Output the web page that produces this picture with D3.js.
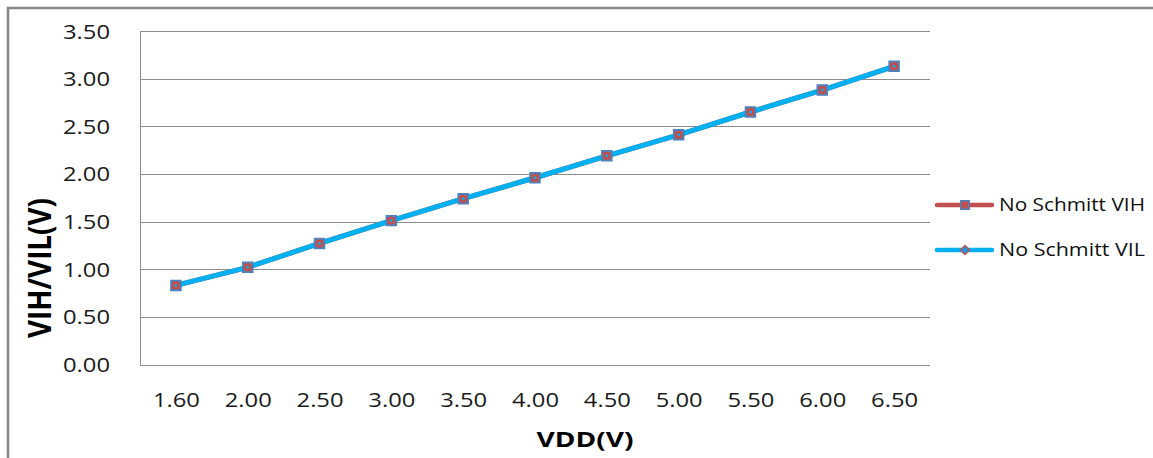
<!DOCTYPE html>
<html><head><meta charset="utf-8">
<script src="https://cdn.jsdelivr.net/npm/d3@7"></script>
<style>
html,body{margin:0;padding:0;background:#fff;}
svg{display:block;font-family:"Open Sans",sans-serif;}
</style></head>
<body>
<svg id="chart" width="1153" height="458"></svg>
<script>
const categories = ["1.60","2.00","2.50","3.00","3.50","4.00","4.50","5.00","5.50","6.00","6.50"];
const vihValues = [0.83,1.02,1.27,1.51,1.74,1.96,2.19,2.41,2.65,2.88,3.13];
const vilValues = [0.83,1.02,1.27,1.51,1.74,1.96,2.19,2.41,2.65,2.88,3.13];
const yTicks = [0,0.5,1,1.5,2,2.5,3,3.5];
const seriesNames = ["No Schmitt VIH","No Schmitt VIL"];

const svg = d3.select("#chart");
// outer chart border
svg.append("path").attr("d","M8,458 L8,8 L1153,8").attr("fill","none")
  .attr("stroke","#878787").attr("stroke-width",2.5);

const x = d3.scalePoint().domain(categories).range([140,930]).padding(0.5);
const y = d3.scaleLinear().domain([0,3.5]).range([364.5,31]);

// gridlines
svg.append("g").selectAll("line").data(yTicks).join("line")
  .attr("x1",140).attr("x2",930)
  .attr("y1",d=>Math.round(y(d))+0.5).attr("y2",d=>Math.round(y(d))+0.5)
  .attr("stroke","#8c8c8c").attr("stroke-width",1);
// left axis line
svg.append("line").attr("x1",140.5).attr("x2",140.5).attr("y1",Math.round(y(3.5))).attr("y2",Math.round(y(0))+1)
  .attr("stroke","#8c8c8c");

// y axis labels
const yAxis = d3.axisLeft(y).tickValues(yTicks).tickFormat(d3.format(".2f")).tickSize(0).tickPadding(0);
const gy = svg.append("g").attr("transform","translate(110,0)").call(yAxis);
gy.select(".domain").remove();
gy.selectAll("text").attr("font-size",20).attr("fill","#1a1a1a").attr("font-family","Open Sans, sans-serif")
  .attr("dy","0.35em").attr("textLength",47).attr("lengthAdjust","spacingAndGlyphs");

// x axis labels
const xAxis = d3.axisBottom(x).tickSize(0).tickPadding(0);
const gx = svg.append("g").attr("transform","translate(0,400)").call(xAxis);
gx.select(".domain").remove();
gx.selectAll("text").attr("font-size",20).attr("fill","#1a1a1a").attr("font-family","Open Sans, sans-serif")
  .attr("dy","0.35em").attr("textLength",47).attr("lengthAdjust","spacingAndGlyphs");

// axis titles
svg.append("text").attr("x",585).attr("y",447).attr("text-anchor","middle")
  .attr("font-size",21).attr("font-weight","bold").attr("textLength",97).attr("lengthAdjust","spacingAndGlyphs")
  .text("VDD(V)");
svg.append("text").attr("transform","translate(40,268) scale(1.15,1) rotate(-90)").attr("text-anchor","middle")
  .attr("font-size",28).attr("font-weight","bold").attr("textLength",140).attr("lengthAdjust","spacingAndGlyphs")
  .attr("dy","0.35em").text("VIH/VIL(V)");

const line = d3.line().x((d,i)=>x(categories[i])).y(d=>y(d));
// VIH series
svg.append("path").datum(vihValues).attr("d",line).attr("fill","none").attr("stroke","#C0504D").attr("stroke-width",5).attr("stroke-linejoin","round");
// VIL series
svg.append("path").datum(vilValues).attr("d",line).attr("fill","none").attr("stroke","#00B0F0").attr("stroke-width",5).attr("stroke-linejoin","round");

const sq = d3.symbol().type(d3.symbolSquare).size(90);
const dm = d3.symbol().type(d3.symbolSquare).size(20);
svg.append("g").selectAll("path").data(vihValues).join("path")
  .attr("d",sq).attr("transform",(d,i)=>`translate(${x(categories[i])},${y(d)})`)
  .attr("fill","#C0504D").attr("stroke","#4F81BD").attr("stroke-width",2);
svg.append("g").selectAll("path").data(vilValues).join("path")
  .attr("d",dm).attr("transform",(d,i)=>`translate(${x(categories[i])},${y(d)}) rotate(45)`)
  .attr("fill","#00B0F0").attr("stroke","#C0504D").attr("stroke-width",2);

// legend
const leg = svg.append("g");
const legY = [205,250];
const legColors = ["#C0504D","#00B0F0"];
seriesNames.forEach((name,i)=>{
  leg.append("line").attr("x1",937).attr("x2",992).attr("y1",legY[i]).attr("y2",legY[i])
    .attr("stroke",legColors[i]).attr("stroke-width",4.5).attr("stroke-linecap","round");
  if(i===0){
    leg.append("path").attr("d",d3.symbol().type(d3.symbolSquare).size(70)).attr("transform",`translate(965,${legY[i]})`)
      .attr("fill","#C0504D").attr("stroke","#4F81BD").attr("stroke-width",1.5);
  } else {
    leg.append("path").attr("d",d3.symbol().type(d3.symbolSquare).size(40)).attr("transform",`translate(965,${legY[i]}) rotate(45)`)
      .attr("fill","#1E9BE0").attr("stroke","#C0504D").attr("stroke-width",1.5);
  }
  leg.append("text").attr("x",999).attr("y",legY[i]).attr("dy","0.35em")
    .attr("font-size",18).attr("fill","#111").attr("textLength",146).attr("lengthAdjust","spacingAndGlyphs")
    .text(name);
});
</script>
</body></html>
